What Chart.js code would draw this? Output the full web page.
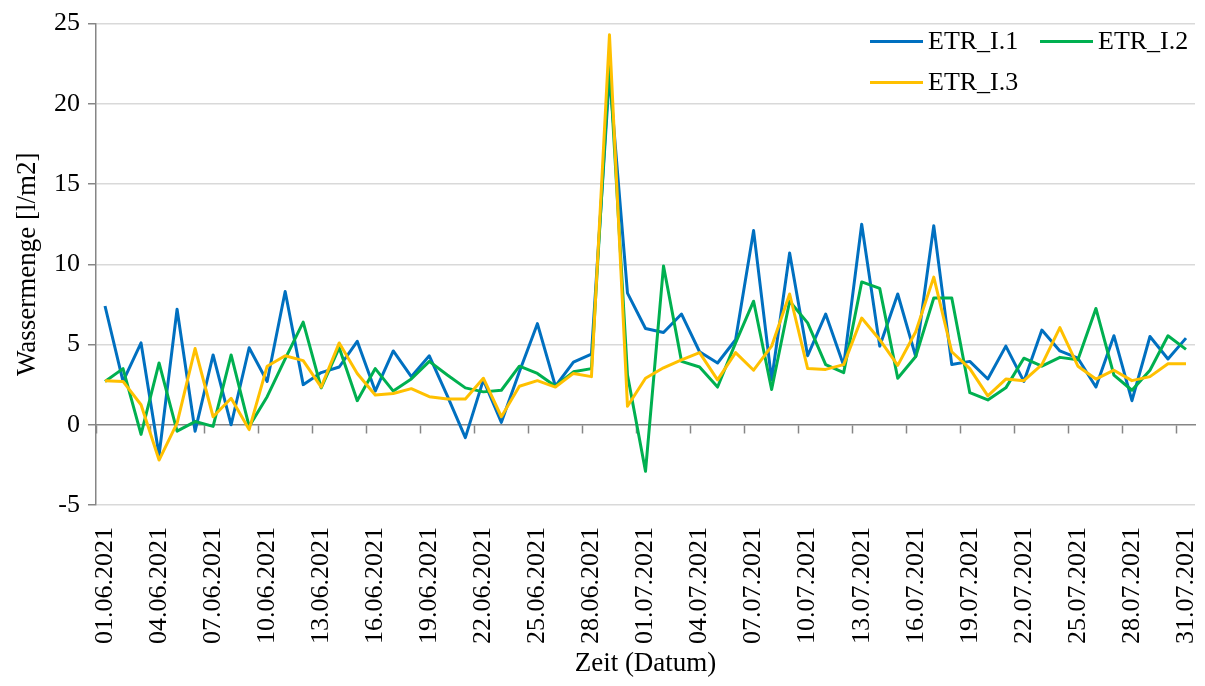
<!DOCTYPE html>
<html lang="de">
<head>
<meta charset="utf-8">
<title>Wassermenge ETR_I</title>
<script src="https://cdn.jsdelivr.net/npm/chart.js@4.4.1/dist/chart.umd.min.js"></script>
<style>
  html, body { margin: 0; padding: 0; background: #fff; }
  #wrap { width: 1205px; height: 686px; }
</style>
</head>
<body>
<div id="wrap"><canvas id="chart" width="1205" height="686"></canvas></div>
<script>
// Categories (one per day)
const dates = [
    '01.06.2021', '02.06.2021', '03.06.2021', '04.06.2021', '05.06.2021', '06.06.2021',
    '07.06.2021', '08.06.2021', '09.06.2021', '10.06.2021', '11.06.2021', '12.06.2021',
    '13.06.2021', '14.06.2021', '15.06.2021', '16.06.2021', '17.06.2021', '18.06.2021',
    '19.06.2021', '20.06.2021', '21.06.2021', '22.06.2021', '23.06.2021', '24.06.2021',
    '25.06.2021', '26.06.2021', '27.06.2021', '28.06.2021', '29.06.2021', '30.06.2021',
    '01.07.2021', '02.07.2021', '03.07.2021', '04.07.2021', '05.07.2021', '06.07.2021',
    '07.07.2021', '08.07.2021', '09.07.2021', '10.07.2021', '11.07.2021', '12.07.2021',
    '13.07.2021', '14.07.2021', '15.07.2021', '16.07.2021', '17.07.2021', '18.07.2021',
    '19.07.2021', '20.07.2021', '21.07.2021', '22.07.2021', '23.07.2021', '24.07.2021',
    '25.07.2021', '26.07.2021', '27.07.2021', '28.07.2021', '29.07.2021', '30.07.2021',
    '31.07.2021'
];
const labelEvery = 3;

// Series values [l/m2]
const seriesNames = ['ETR_I.1', 'ETR_I.2', 'ETR_I.3'];
const etr1 = [
    7.4, 2.7, 5.1, -1.9, 7.2, -0.4, 4.35, 0.0, 4.8, 2.7,
    8.3, 2.5, 3.25, 3.6, 5.2, 2.1, 4.6, 3.0, 4.3, 1.8,
    -0.8, 2.8, 0.15, 3.3, 6.3, 2.4, 3.9, 4.4, 21.8, 8.2,
    6.0, 5.75, 6.9, 4.55, 3.85, 5.3, 12.1, 2.8, 10.7, 4.3,
    6.9, 3.7, 12.5, 4.9, 8.15, 4.25, 12.4, 3.75, 3.95, 2.85,
    4.9, 2.7, 5.9, 4.6, 4.15, 2.35, 5.55, 1.5, 5.5, 4.1,
    5.4
];
const etr2 = [
    2.7, 3.5, -0.6, 3.85, -0.4, 0.2, -0.1, 4.35, -0.1, 1.75,
    4.1, 6.4, 2.3, 4.8, 1.5, 3.5, 2.1, 2.85, 3.95, 3.1,
    2.3, 2.05, 2.15, 3.65, 3.2, 2.4, 3.3, 3.5, 22.6, 3.1,
    -2.9, 9.9, 3.95, 3.6, 2.35, 5.1, 7.7, 2.2, 7.7, 6.35,
    3.75, 3.25, 8.9, 8.5, 2.9, 4.25, 7.9, 7.9, 2.0, 1.55,
    2.3, 4.15, 3.65, 4.2, 4.05, 7.25, 3.1, 2.15, 3.4, 5.55,
    4.7
];
const etr3 = [
    2.75, 2.7, 1.25, -2.2, 0.1, 4.75, 0.5, 1.65, -0.3, 3.65,
    4.3, 4.0, 2.35, 5.1, 3.2, 1.85, 1.95, 2.25, 1.75, 1.6,
    1.6, 2.9, 0.5, 2.4, 2.75, 2.35, 3.2, 3.0, 24.3, 1.15,
    2.9, 3.55, 4.05, 4.5, 2.8, 4.5, 3.4, 4.9, 8.15, 3.5,
    3.45, 3.75, 6.65, 5.3, 3.7, 5.8, 9.2, 4.55, 3.5, 1.8,
    2.85, 2.75, 3.75, 6.05, 3.65, 2.85, 3.4, 2.75, 3.0, 3.8,
    3.8
];

// Y axis
const yMin = -5;
const yMax = 25;
const yStep = 5;

const colors = ['#0070C0', '#00B050', '#FFC000'];
const axisGray = '#868686';
const gridGray = '#d9d9d9';

Chart.defaults.font.family = '"Liberation Serif", "Times New Roman", serif';
Chart.defaults.font.size = 26;
Chart.defaults.color = '#000';

// Legend drawn inside the plot, top right, two items per row like the original
const insideLegend = {
    id: 'insideLegend',
    afterDraw(chart) {
        const ctx = chart.ctx;
        const area = chart.chartArea;
        const slots = [
            { x: area.right - 325, y: area.top + 18 },
            { x: area.right - 155, y: area.top + 18 },
            { x: area.right - 325, y: area.top + 59 }
        ];
        ctx.save();
        ctx.font = '26px "Liberation Serif", serif';
        ctx.textBaseline = 'middle';
        ctx.fillStyle = '#000';
        chart.data.datasets.forEach((ds, i) => {
            const s = slots[i];
            ctx.strokeStyle = ds.borderColor;
            ctx.lineWidth = 3;
            ctx.beginPath();
            ctx.moveTo(s.x, s.y);
            ctx.lineTo(s.x + 53, s.y);
            ctx.stroke();
            ctx.fillText(ds.label, s.x + 58, s.y + 1);
        });
        ctx.restore();
    }
};

const ctx = document.getElementById('chart').getContext('2d');

new Chart(ctx, {
    type: 'line',
    data: {
        labels: dates,
        datasets: [etr1, etr2, etr3].map((values, i) => ({
            label: seriesNames[i],
            data: values,
            borderColor: colors[i],
            backgroundColor: colors[i],
            borderWidth: 3,
            borderJoinStyle: 'round',
            pointRadius: 0,
            tension: 0,
            fill: false,
            order: 3 - i
        }))
    },
    options: {
        responsive: false,
        devicePixelRatio: 1,
        animation: false,
        layout: {
            padding: { left: 4, right: 10, top: 7, bottom: 2 }
        },
        plugins: {
            legend: { display: false },
            tooltip: { enabled: false }
        },
        scales: {
            x: {
                type: 'category',
                offset: true,
                border: { display: false },
                grid: { display: false, drawTicks: false },
                ticks: {
                    autoSkip: false,
                    minRotation: 90,
                    maxRotation: 90,
                    padding: 22,
                    callback: function (value, index) {
                        return index % labelEvery === 0 ? this.getLabelForValue(value) : '';
                    }
                },
                title: {
                    display: true,
                    text: 'Zeit (Datum)',
                    font: { size: 27 },
                    padding: { top: 4, bottom: 4 }
                },
                // keep the plot as wide and tall as in the original
                afterFit: scale => {
                    scale.height = 179;
                    scale.paddingLeft = 0;
                    scale.paddingRight = 0;
                }
            },
            // axis line through zero with the tick marks between categories
            x2: {
                type: 'category',
                position: { y: 0 },
                offset: true,
                border: { color: axisGray, width: 1.5 },
                grid: {
                    offset: true,
                    drawOnChartArea: false,
                    tickLength: 8,
                    tickWidth: 1.5,
                    tickColor: c => (c.index % labelEvery === 0 ? axisGray : 'rgba(0,0,0,0)')
                },
                ticks: { display: false, autoSkip: false }
            },
            y: {
                min: yMin,
                max: yMax,
                border: { color: axisGray, width: 1.5 },
                grid: {
                    color: c => (c.tick && c.tick.value === 0 ? 'rgba(0,0,0,0)' : gridGray),
                    lineWidth: 1.5,
                    tickColor: axisGray,
                    tickLength: 8
                },
                ticks: { stepSize: yStep, padding: 8 },
                title: {
                    display: true,
                    text: 'Wassermenge [l/m2]',
                    font: { size: 27 },
                    padding: { top: 8, bottom: 10 }
                },
                afterFit: scale => {
                    scale.width = 92;
                }
            }
        }
    },
    plugins: [insideLegend]
});
</script>
</body>
</html>
